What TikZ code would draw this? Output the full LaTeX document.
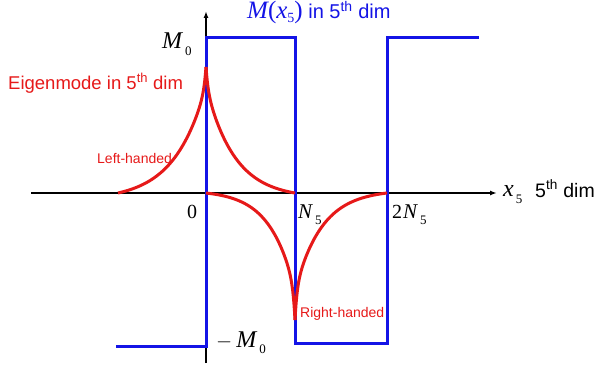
\documentclass[tikz,border=0pt]{standalone}
\usepackage{fontspec}
\setmainfont{Liberation Sans}
\newfontfamily\serif{Liberation Serif}
\usepackage{xcolor}
\usepackage{tikz}
\usetikzlibrary{arrows.meta}

\definecolor{modered}{RGB}{230,25,25}
\definecolor{massblue}{RGB}{20,20,230}

% letter with a lowered, spaced subscript
\newcommand\msub[3]{{\serif\fontsize{#3}{#3}\selectfont\itshape #1}\hspace{3pt}\raisebox{-6pt}{\serif\fontsize{13}{13}\selectfont #2}}

\begin{document}
\begin{tikzpicture}[
  x=1pt, y=-1pt,
  axis/.style={line width=1.4pt, black, -{Latex[length=7pt,width=5pt]}},
  mass/.style={line width=3pt, massblue},
  mode/.style={line width=3pt, modered},
  redlabel/.style={anchor=base west, inner sep=0pt, text=modered},
  ticklabel/.style={anchor=base west, inner sep=0pt}
]
\useasboundingbox (0,0) rectangle (595,369);

% Axes
\draw[axis] (31,193) -- (497,193);
\draw[axis] (206,363) -- (206,11);

% Mass profile
\draw[mass] (116,346) -- (206,346) -- (206,38) -- (295,38) -- (295,343)
  -- (387,343) -- (387,38) -- (479,38);

% Left-handed mode
\draw[mode] plot[domain=118:206, samples=200]
  (\x, {193 - 106*(exp((\x-206)/32) - 0.0639)/(1-0.0639) - 20*exp(max(-9,(\x-206)/2))});
\draw[mode] plot[domain=206:295, samples=200]
  (\x, {193 - 106*(exp((206-\x)/29) - 0.0465)/(1-0.0465) - 20*exp(max(-9,(206-\x)/2))});

% Right-handed mode
\draw[mode] plot[domain=206:295, samples=200]
  (\x, {193 + 97*(exp((\x-295)/25) - 0.0284)/(1-0.0284) + 30*exp(max(-9,(\x-295)/2))});
\draw[mode] plot[domain=295:387, samples=200]
  (\x, {193 + 97*(exp((295-\x)/27) - 0.0331)/(1-0.0331) + 30*exp(max(-9,(295-\x)/2))});

% Labels
\node[ticklabel, text=massblue] (mtitle) at (247,19)
  {{\serif\fontsize{25}{25}\selectfont\itshape M}{\serif\fontsize{25}{25}\selectfont(\textit{x}}\raisebox{-4pt}{\serif\fontsize{14}{14}\selectfont 5}{\serif\fontsize{25}{25}\selectfont)}\fontsize{20}{20}\selectfont\ in 5\textsuperscript{th} dim};
\node[redlabel, font=\fontsize{18.5}{18.5}\selectfont] (eigen) at (8,89)
  {Eigenmode in 5\textsuperscript{th} dim};
\node[redlabel, font=\fontsize{14}{14}\selectfont] (left) at (97,163) {Left-handed};
\node[redlabel, font=\fontsize{14}{14}\selectfont] (right) at (300,317) {Right-handed};

\node[ticklabel] (mtop) at (162,49) {\msub{M}{0}{24}};
\node[ticklabel] (mbot) at (216,347)
  {{\serif\fontsize{22}{22}\selectfont $-$}\hspace{4pt}\msub{M}{0}{24}};
\node[ticklabel] (zero) at (187,218) {\serif\fontsize{20}{20}\selectfont 0};
\node[ticklabel] (nfive) at (298,218) {\msub{N}{5}{21}};
\node[ticklabel] (twon) at (392,218)
  {{\serif\fontsize{20}{20}\selectfont 2}\hspace{1pt}\msub{N}{5}{21}};
\node[ticklabel] (xfive) at (503,196)
  {{\serif\fontsize{24}{24}\selectfont\itshape x}\hspace{2pt}\raisebox{-7pt}{\serif\fontsize{13}{13}\selectfont 5}};
\node[ticklabel, font=\fontsize{19.5}{19.5}\selectfont] (dim) at (535,197)
  {5\textsuperscript{th} dim};

\end{tikzpicture}
\end{document}
